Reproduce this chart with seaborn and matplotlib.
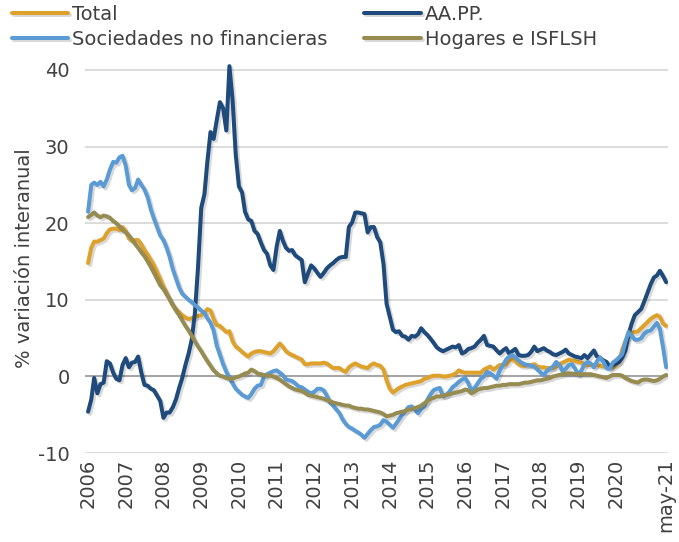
import pandas as pd
import matplotlib
matplotlib.use("Agg")
import matplotlib.pyplot as plt
import matplotlib.patheffects as pe
import seaborn as sns

meses = pd.date_range("2006-01-01", "2021-05-01", freq="MS")

total = [
    14.8, 16.8, 17.6, 17.6, 17.8, 18.0, 18.7, 19.2, 19.3, 19.3, 19.1, 19.5,
    19.0, 18.0, 17.7, 17.8, 17.8, 17.2, 16.5, 15.9, 15.2, 14.5, 13.6, 12.7,
    11.7, 10.9, 10.0, 9.3, 8.8, 8.4, 8.0, 7.7, 7.5, 7.6, 7.8, 7.9,
    8.0, 8.3, 8.8, 8.6, 7.5, 6.7, 6.6, 6.2, 5.8, 5.9, 4.6, 3.9,
    3.6, 3.2, 2.9, 2.6, 3.0, 3.2, 3.3, 3.3, 3.2, 3.1, 3.0, 3.3,
    3.8, 4.3, 3.9, 3.3, 3.0, 2.8, 2.6, 2.4, 2.2, 1.6, 1.6, 1.7,
    1.7, 1.7, 1.7, 1.8, 1.7, 1.4, 1.1, 1.1, 1.1, 0.8, 0.6, 1.2,
    1.5, 1.7, 1.5, 1.3, 1.2, 1.1, 1.5, 1.7, 1.5, 1.4, 0.9, -0.5,
    -1.6, -2.1, -1.8, -1.5, -1.3, -1.1, -1.0, -0.9, -0.8, -0.7, -0.6, -0.3,
    -0.2, 0.0, 0.1, 0.1, 0.1, 0.0, 0.0, 0.1, 0.2, 0.4, 0.8, 0.6,
    0.5, 0.5, 0.5, 0.5, 0.5, 0.5, 0.9, 1.1, 1.3, 0.9, 1.2, 1.5,
    1.5, 1.6, 2.1, 2.3, 2.0, 1.6, 1.4, 1.4, 1.5, 1.5, 1.6, 1.3,
    1.2, 1.2, 1.1, 1.1, 1.1, 1.3, 1.6, 1.8, 2.0, 2.2, 2.1, 2.0,
    1.9, 1.8, 1.6, 1.5, 1.5, 1.5, 1.5, 1.4, 1.3, 1.3, 1.2, 1.2,
    1.5, 2.0, 3.5, 4.6, 5.4, 5.7, 5.8, 5.9, 6.3, 6.7, 7.1, 7.5,
    7.8, 8.0, 7.8, 6.9, 6.6,
]

aapp = [
    -4.6, -3.0, -0.2, -2.2, -1.0, -0.8, 2.0, 1.7, 0.5, -0.3, -0.5, 1.5,
    2.4, 1.2, 1.8, 1.9, 2.6, 0.5, -1.1, -1.2, -1.6, -1.8, -2.5, -3.2,
    -5.4, -4.7, -4.7, -4.0, -3.0, -1.5, -0.2, 1.5, 3.0, 4.8, 8.3, 14.3,
    22.0, 23.8, 28.0, 31.9, 31.0, 33.5, 35.8, 35.0, 32.1, 40.5, 36.0, 29.0,
    24.8, 24.0, 21.5, 20.5, 20.3, 19.0, 18.6, 17.5, 16.5, 16.0, 14.5, 13.9,
    16.9, 19.0, 17.8, 16.8, 16.4, 16.5, 15.8, 15.5, 15.2, 12.3, 13.4, 14.5,
    14.1, 13.5, 13.0, 13.5, 14.1, 14.5, 14.8, 15.2, 15.5, 15.6, 15.6, 19.5,
    20.1, 21.4, 21.4, 21.3, 21.2, 18.8, 19.5, 19.5, 18.2, 17.5, 14.7, 9.5,
    7.8, 6.1, 5.8, 5.9, 5.3, 5.2, 4.8, 5.3, 5.2, 5.5, 6.3, 5.8,
    5.4, 4.9, 4.4, 3.8, 3.5, 3.3, 3.5, 3.7, 3.9, 3.8, 4.1, 3.0,
    3.2, 3.6, 3.7, 3.9, 4.4, 4.8, 5.3, 4.1, 4.0, 3.9, 3.4, 3.0,
    3.4, 3.7, 3.0, 3.3, 3.6, 2.8, 2.7, 2.7, 2.8, 3.2, 3.9, 3.3,
    3.5, 3.7, 3.4, 3.2, 2.9, 2.8, 3.0, 3.2, 3.5, 3.0, 2.8, 2.6,
    2.5, 2.4, 2.8, 2.4, 2.9, 3.4, 2.6, 2.4, 2.1, 1.9, 1.3, 1.5,
    1.7, 1.9, 2.5, 3.4, 5.5, 6.9, 8.0, 8.4, 8.8, 9.8, 10.9, 12.0,
    12.9, 13.2, 13.8, 13.1, 12.3,
]

snf = [
    21.5, 25.0, 25.3, 25.0, 25.4, 24.8, 25.7, 27.0, 28.0, 27.9, 28.6, 28.8,
    27.5, 25.0, 24.3, 24.6, 25.7, 25.0, 24.4, 23.4, 21.8, 20.6, 19.5, 18.4,
    17.8, 16.8, 15.6, 14.0, 12.8, 11.6, 10.8, 10.4, 10.0, 9.7, 9.3, 9.0,
    8.6, 8.3, 7.6, 7.0, 6.0, 4.0, 2.8, 1.6, 0.6, -0.2, -0.9, -1.6,
    -2.0, -2.4, -2.6, -2.8, -2.3, -1.6, -1.2, -1.1, 0.0, 0.3, 0.5, 0.7,
    0.8, 0.5, 0.2, -0.4, -0.5, -0.6, -0.9, -1.3, -1.4, -1.7, -2.0, -2.2,
    -2.0, -1.6, -1.6, -1.8, -2.5, -3.4, -3.8, -4.3, -4.8, -5.6, -6.2, -6.6,
    -6.8, -7.1, -7.3, -7.6, -8.0, -7.5, -7.0, -6.6, -6.5, -6.3, -5.7, -5.9,
    -6.3, -6.7, -6.2, -5.6, -5.0, -4.5, -4.0, -3.9, -4.3, -4.8, -4.2, -3.9,
    -3.0, -2.3, -1.8, -1.6, -1.5, -2.6, -2.4, -2.0, -1.4, -1.1, -0.7, -0.4,
    -0.2, -0.9, -1.8, -1.5, -0.9, -0.3, 0.0, 0.6, 0.4, 0.1, -0.3, 0.8,
    1.5, 2.2, 2.6, 2.8, 2.5, 2.1, 1.8, 1.6, 1.5, 1.4, 1.3, 0.9,
    0.5, 0.2, 0.7, 1.0, 1.3, 1.9, 1.5, 0.7, 1.0, 1.5, 1.6, 1.0,
    0.2, 0.8, 1.6, 1.9, 1.7, 1.2, 2.0, 2.5, 1.9, 1.1, 1.0, 1.8,
    2.1, 2.5, 2.9, 4.5, 5.8, 5.3, 4.8, 4.8, 5.0, 5.6, 5.9, 6.0,
    6.5, 7.0, 6.2, 3.8, 1.2,
]

hogares = [
    20.8, 21.1, 21.4, 21.0, 20.8, 21.0, 20.9, 20.7, 20.3, 20.0, 19.6, 19.1,
    18.8, 18.4, 17.9, 17.3, 16.8, 16.2, 15.7, 15.0, 14.3, 13.5, 12.7, 11.9,
    11.4, 10.7, 10.1, 9.3, 8.6, 8.0, 7.3, 6.6, 6.0, 5.3, 4.6, 3.9,
    3.3, 2.6, 2.0, 1.4, 0.8, 0.4, 0.1, 0.0, -0.2, -0.3, -0.3, -0.1,
    0.0, 0.2, 0.4, 0.5, 0.9, 0.7, 0.4, 0.3, 0.2, 0.1, 0.1, 0.0,
    -0.2, -0.4, -0.7, -1.0, -1.3, -1.5, -1.7, -1.8, -1.9, -2.1, -2.4, -2.5,
    -2.6, -2.7, -2.8, -2.9, -3.1, -3.2, -3.4, -3.5, -3.6, -3.7, -3.8, -3.8,
    -4.0, -4.1, -4.2, -4.2, -4.3, -4.3, -4.4, -4.5, -4.6, -4.7, -4.9, -5.2,
    -5.1, -5.0, -4.8, -4.7, -4.6, -4.5, -4.3, -4.3, -4.1, -4.0, -3.8, -3.5,
    -3.2, -2.9, -2.8, -2.6, -2.6, -2.5, -2.4, -2.3, -2.2, -2.1, -2.0, -1.9,
    -1.7, -1.8, -2.2, -2.0, -1.7, -1.6, -1.5, -1.5, -1.4, -1.3, -1.2, -1.2,
    -1.1, -1.1, -1.0, -1.0, -1.0, -1.0, -0.9, -0.8, -0.8, -0.7, -0.6, -0.5,
    -0.5, -0.4, -0.3, -0.2, 0.0, 0.1, 0.2, 0.3, 0.4, 0.4, 0.4, 0.3,
    0.3, 0.3, 0.3, 0.3, 0.3, 0.2, 0.1, 0.0, -0.1, -0.2, 0.0, 0.2,
    0.2, 0.2, 0.1, -0.2, -0.4, -0.6, -0.7, -0.8, -0.5, -0.4, -0.4, -0.5,
    -0.6, -0.5, -0.3, 0.0, 0.2,
]

series = ["Total", "AA.PP.", "Sociedades no financieras", "Hogares e ISFLSH"]
colores = ["#DEA22C", "#1F4A7C", "#5B9BD5", "#968C52"]

tick_fechas = [pd.Timestamp(f"{y}-01-01") for y in range(2006, 2021)] + [pd.Timestamp("2021-05-01")]
tick_textos = [str(y) for y in range(2006, 2021)] + ["may-21"]
y_ticks = [-10, 0, 10, 20, 30, 40]

df = pd.DataFrame({"fecha": meses, "Total": total, "AA.PP.": aapp,
                   "Sociedades no financieras": snf, "Hogares e ISFLSH": hogares})
largo = df.melt(id_vars="fecha", var_name="serie", value_name="valor")

sns.set_style("white")
plt.rcParams["font.family"] = ["DejaVu Sans"]
plt.rcParams["axes.unicode_minus"] = False
gris = "#404040"

fig = plt.figure(figsize=(6.79, 5.42), dpi=100)
ax = fig.add_axes([0.125, 0.164, 0.859, 0.721])

sns.lineplot(data=largo, x="fecha", y="valor", hue="serie", hue_order=series,
             palette=colores, linewidth=2.9, estimator=None, ax=ax, zorder=3)

for line in ax.lines:
    line.set_path_effects([pe.SimpleLineShadow(offset=(1.5, -1.5), alpha=0.15, shadow_color="k"),
                           pe.Normal()])
    line.set_solid_capstyle("round")

ax.set_ylim(-10, 41)
ax.set_yticks(y_ticks)
ax.set_xlim(pd.Timestamp("2005-12-01"), pd.Timestamp("2021-05-20"))
ax.set_xticks(tick_fechas)
ax.set_xticklabels(tick_textos, rotation=90)
ax.tick_params(axis="both", length=0, labelsize=14, labelcolor=gris)
ax.tick_params(axis="y", pad=11)
ax.tick_params(axis="x", pad=4)

ax.yaxis.grid(True, color="#d9d9d9", linewidth=1.3, zorder=0)
ax.xaxis.grid(False)
ax.axhline(0, color="#a6a6a6", linewidth=1.5, zorder=1)
sns.despine(ax=ax, left=True, bottom=True)

ax.set_xlabel("")
ax.set_ylabel("% variación interanual", fontsize=14, color=gris, labelpad=3)

handles, labels = ax.get_legend_handles_labels()
ax.get_legend().remove()
orden = [0, 2, 1, 3]
fig.legend([handles[i] for i in orden], [labels[i] for i in orden],
           loc="upper left", bbox_to_anchor=(0.0, 1.012), ncol=2, frameon=False,
           fontsize=14, labelcolor=gris, handlelength=2.9, handletextpad=0.2,
           columnspacing=1.9, labelspacing=0.3, borderaxespad=0.2)

fig.savefig("out.png", dpi=100)
